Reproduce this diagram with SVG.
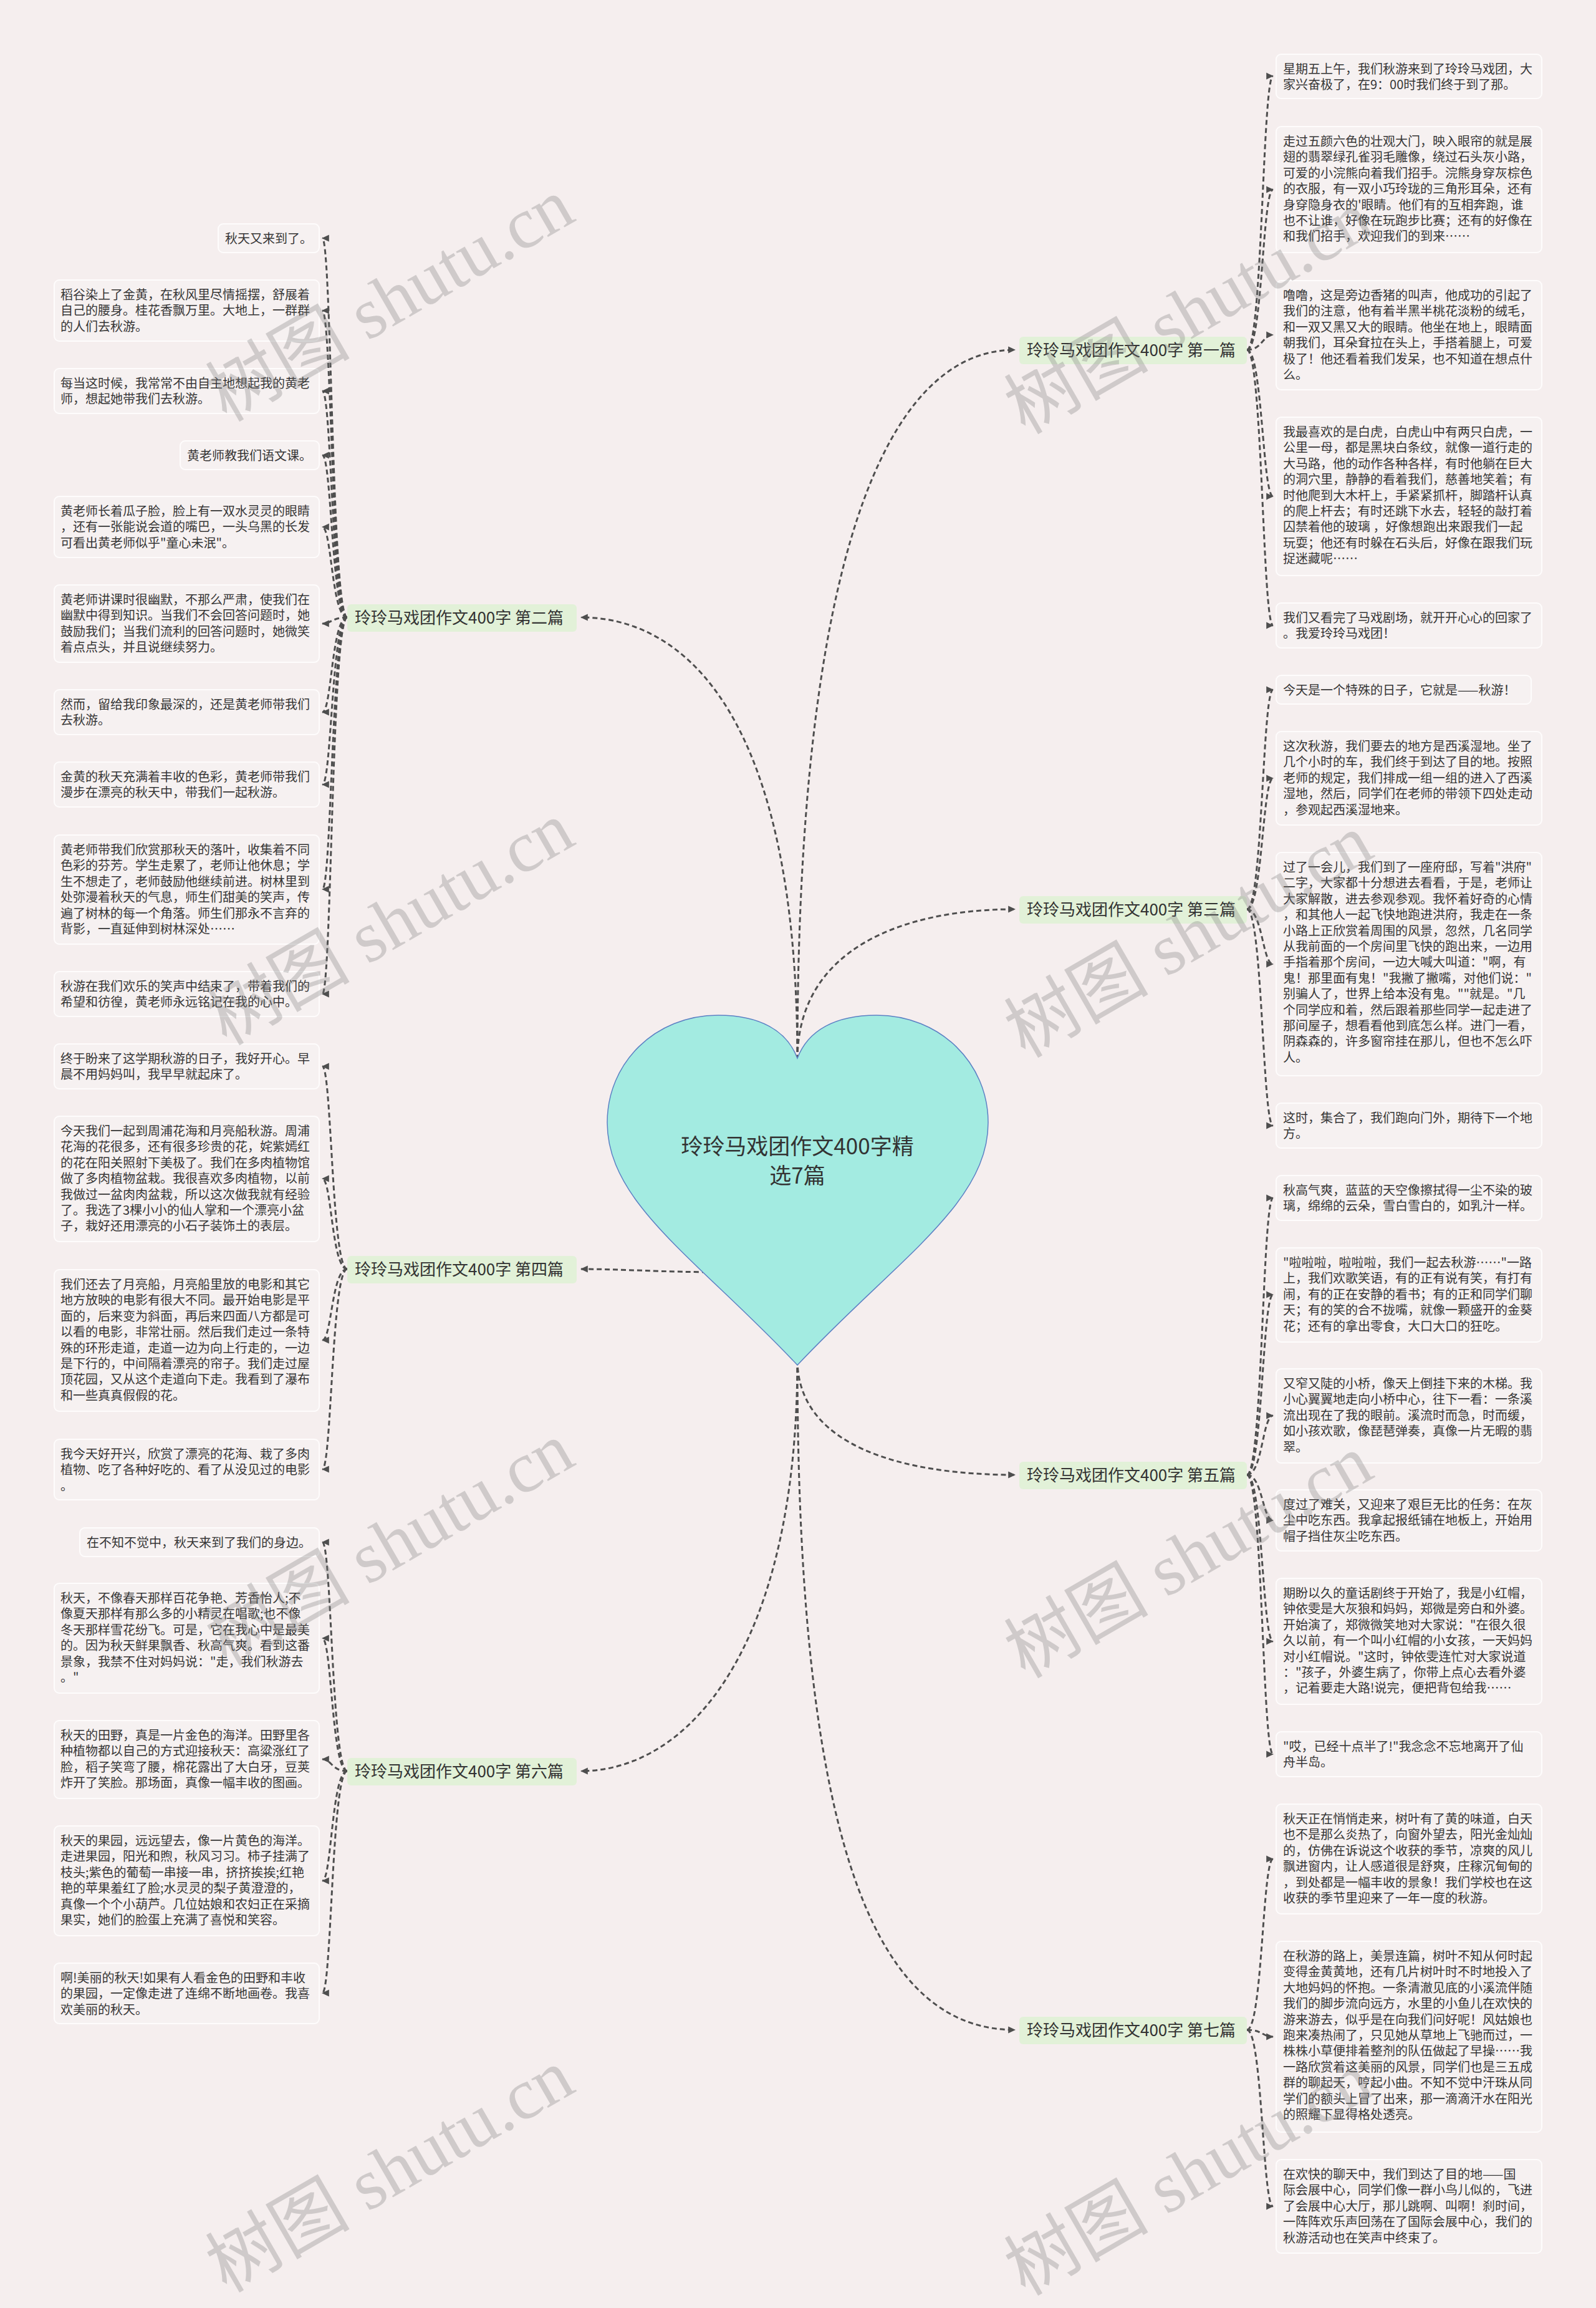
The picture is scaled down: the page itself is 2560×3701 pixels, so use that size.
<svg xmlns="http://www.w3.org/2000/svg" width="2560" height="3701" viewBox="0 0 2560 3701">
<style>
.bg{fill:#f5eeee}
.leaf rect{fill:#f6f1f1;stroke:#fefcfc;stroke-width:2}
.leaf text{font-family:"Noto Sans CJK SC","Noto Sans",sans-serif;font-size:20px;fill:#363636}
.lbl rect{fill:#e2f1d8}
.lbl text{font-family:"Noto Sans CJK SC","Noto Sans",sans-serif;font-size:26px;fill:#333}
.conn path{fill:none;stroke:#4e4e4e;stroke-width:3;stroke-dasharray:8 5;marker-end:url(#arr)}
.wm{font-family:"Liberation Serif","Noto Sans CJK SC",serif;font-size:116px;fill:#7a7a7a;opacity:.3}
</style>
<defs>
<marker id="arr" viewBox="0 0 10 10" refX="9" refY="5" markerWidth="12" markerHeight="12" markerUnits="userSpaceOnUse" orient="auto">
<path d="M0,0.5 L10,5 L0,9.5 z" fill="#4e4e4e"/>
</marker>
</defs>
<rect class="bg" x="0" y="0" width="2560" height="3701"/>

<g id="connectors" class="conn">
<path d="M1279 1700 C1279 900 1420 561 1628 561"/>
<path d="M1279 1700 C1279 1150 1100 990 932 990"/>
<path d="M1279 1700 C1279 1520 1450 1458 1628 1458"/>
<path d="M1160 2040 C1060 2040 1000 2035 932 2035"/>
<path d="M1279 2180 C1279 2320 1450 2365 1628 2365"/>
<path d="M1279 2180 C1279 2650 1100 2840 932 2840"/>
<path d="M1279 2180 C1279 3000 1420 3255 1628 3255"/>

<path d="M2000 561 C2025 561 2025 122 2042 122"/>
<path d="M2000 561 C2025 561 2025 304 2042 304"/>
<path d="M2000 561 C2025 561 2025 537 2042 537"/>
<path d="M2000 561 C2025 561 2025 796 2042 796"/>
<path d="M2000 561 C2025 561 2025 1003 2042 1003"/>

<path d="M557 990 C532 990 532 382 517 382"/>
<path d="M557 990 C532 990 532 498 517 498"/>
<path d="M557 990 C532 990 532 627 517 627"/>
<path d="M557 990 C532 990 532 730 517 730"/>
<path d="M557 990 C532 990 532 845 517 845"/>
<path d="M557 990 C532 990 532 1000 517 1000"/>
<path d="M557 990 C532 990 532 1142 517 1142"/>
<path d="M557 990 C532 990 532 1258 517 1258"/>
<path d="M557 990 C532 990 532 1426 517 1426"/>
<path d="M557 990 C532 990 532 1594 517 1594"/>

<path d="M2000 1458 C2025 1458 2025 1106 2042 1106"/>
<path d="M2000 1458 C2025 1458 2025 1248 2042 1248"/>
<path d="M2000 1458 C2025 1458 2025 1546 2042 1546"/>
<path d="M2000 1458 C2025 1458 2025 1805 2042 1805"/>

<path d="M557 2035 C532 2035 532 1710 517 1710"/>
<path d="M557 2035 C532 2035 532 1890 517 1890"/>
<path d="M557 2035 C532 2035 532 2149 517 2149"/>
<path d="M557 2035 C532 2035 532 2356 517 2356"/>

<path d="M2000 2365 C2025 2365 2025 1921 2042 1921"/>
<path d="M2000 2365 C2025 2365 2025 2076 2042 2076"/>
<path d="M2000 2365 C2025 2365 2025 2270 2042 2270"/>
<path d="M2000 2365 C2025 2365 2025 2438 2042 2438"/>
<path d="M2000 2365 C2025 2365 2025 2632 2042 2632"/>
<path d="M2000 2365 C2025 2365 2025 2813 2042 2813"/>

<path d="M557 2840 C532 2840 532 2473 517 2473"/>
<path d="M557 2840 C532 2840 532 2627 517 2627"/>
<path d="M557 2840 C532 2840 532 2821 517 2821"/>
<path d="M557 2840 C532 2840 532 3016 517 3016"/>
<path d="M557 2840 C532 2840 532 3196 517 3196"/>

<path d="M2000 3255 C2025 3255 2025 2981 2042 2981"/>
<path d="M2000 3255 C2025 3255 2025 3266 2042 3266"/>
<path d="M2000 3255 C2025 3255 2025 3538 2042 3538"/>
</g>

<g id="center">
<path d="M1279 1697 C1262 1652 1218 1628 1152 1628 C1050 1628 974 1705 974 1800 C974 1930 1120 2020 1279 2189 C1438 2020 1585 1930 1585 1800 C1585 1705 1508 1628 1406 1628 C1340 1628 1296 1652 1279 1697 Z" fill="#a3ebe1" stroke="#5d80c4" stroke-width="1.5"/>
<text x="1279" y="1851" text-anchor="middle" font-family="Noto Sans CJK SC, sans-serif" font-size="35" fill="#333">玲玲马戏团作文400字精</text>
<text x="1279" y="1898" text-anchor="middle" font-family="Noto Sans CJK SC, sans-serif" font-size="35" fill="#333">选7篇</text>
</g>

<g id="b1" class="lbl"><rect x="1635" y="540" width="365" height="44" rx="6"/><text x="1647" y="571">玲玲马戏团作文400字 第一篇</text></g>
<g id="b2" class="lbl"><rect x="557" y="969" width="368" height="44" rx="6"/><text x="569" y="1000">玲玲马戏团作文400字 第二篇</text></g>
<g id="b3" class="lbl"><rect x="1635" y="1437" width="365" height="44" rx="6"/><text x="1647" y="1468">玲玲马戏团作文400字 第三篇</text></g>
<g id="b4" class="lbl"><rect x="557" y="2014" width="368" height="44" rx="6"/><text x="569" y="2045">玲玲马戏团作文400字 第四篇</text></g>
<g id="b5" class="lbl"><rect x="1635" y="2344" width="365" height="44" rx="6"/><text x="1647" y="2375">玲玲马戏团作文400字 第五篇</text></g>
<g id="b6" class="lbl"><rect x="557" y="2819" width="368" height="44" rx="6"/><text x="569" y="2850">玲玲马戏团作文400字 第六篇</text></g>
<g id="b7" class="lbl"><rect x="1635" y="3234" width="365" height="44" rx="6"/><text x="1647" y="3265">玲玲马戏团作文400字 第七篇</text></g>

<g id="l2-1" class="leaf"><rect x="350" y="359" width="162" height="46" rx="8"/><text x="361" y="390">秋天又来到了。</text></g>
<g id="l2-2" class="leaf"><rect x="87" y="449" width="425" height="98" rx="8"/><text x="97" y="480"><tspan x="97">稻谷染上了金黄，在秋风里尽情摇摆，舒展着</tspan><tspan x="97" dy="25.4">自己的腰身。桂花香飘万里。大地上，一群群</tspan><tspan x="97" dy="25.4">的人们去秋游。</tspan></text></g>
<g id="l2-3" class="leaf"><rect x="87" y="591" width="425" height="72" rx="8"/><text x="97" y="622"><tspan x="97">每当这时候，我常常不由自主地想起我的黄老</tspan><tspan x="97" dy="25.4">师，想起她带我们去秋游。</tspan></text></g>
<g id="l2-4" class="leaf"><rect x="289" y="707" width="223" height="46" rx="8"/><text x="300" y="738">黄老师教我们语文课。</text></g>
<g id="l2-5" class="leaf"><rect x="87" y="796" width="425" height="98" rx="8"/><text x="97" y="827"><tspan x="97">黄老师长着瓜子脸，脸上有一双水灵灵的眼睛</tspan><tspan x="97" dy="25.4">，还有一张能说会道的嘴巴，一头乌黑的长发</tspan><tspan x="97" dy="25.4">可看出黄老师似乎"童心未泯"。</tspan></text></g>
<g id="l2-6" class="leaf"><rect x="87" y="938" width="425" height="124" rx="8"/><text x="97" y="969"><tspan x="97">黄老师讲课时很幽默，不那么严肃，使我们在</tspan><tspan x="97" dy="25.4">幽默中得到知识。当我们不会回答问题时，她</tspan><tspan x="97" dy="25.4">鼓励我们；当我们流利的回答问题时，她微笑</tspan><tspan x="97" dy="25.4">着点点头，并且说继续努力。</tspan></text></g>
<g id="l2-7" class="leaf"><rect x="87" y="1106" width="425" height="72" rx="8"/><text x="97" y="1137"><tspan x="97">然而，留给我印象最深的，还是黄老师带我们</tspan><tspan x="97" dy="25.4">去秋游。</tspan></text></g>
<g id="l2-8" class="leaf"><rect x="87" y="1222" width="425" height="72" rx="8"/><text x="97" y="1253"><tspan x="97">金黄的秋天充满着丰收的色彩，黄老师带我们</tspan><tspan x="97" dy="25.4">漫步在漂亮的秋天中，带我们一起秋游。</tspan></text></g>
<g id="l2-9" class="leaf"><rect x="87" y="1339" width="425" height="175" rx="8"/><text x="97" y="1370"><tspan x="97">黄老师带我们欣赏那秋天的落叶，收集着不同</tspan><tspan x="97" dy="25.4">色彩的芬芳。学生走累了，老师让他休息；学</tspan><tspan x="97" dy="25.4">生不想走了，老师鼓励他继续前进。树林里到</tspan><tspan x="97" dy="25.4">处弥漫着秋天的气息，师生们甜美的笑声，传</tspan><tspan x="97" dy="25.4">遍了树林的每一个角落。师生们那永不言弃的</tspan><tspan x="97" dy="25.4">背影，一直延伸到树林深处……</tspan></text></g>
<g id="l2-10" class="leaf"><rect x="87" y="1558" width="425" height="72" rx="8"/><text x="97" y="1589"><tspan x="97">秋游在我们欢乐的笑声中结束了，带着我们的</tspan><tspan x="97" dy="25.4">希望和彷徨，黄老师永远铭记在我的心中。</tspan></text></g>

<g id="l4-1" class="leaf"><rect x="87" y="1674" width="425" height="72" rx="8"/><text x="97" y="1705"><tspan x="97">终于盼来了这学期秋游的日子，我好开心。早</tspan><tspan x="97" dy="25.4">晨不用妈妈叫，我早早就起床了。</tspan></text></g>
<g id="l4-2" class="leaf"><rect x="87" y="1790" width="425" height="201" rx="8"/><text x="97" y="1821"><tspan x="97">今天我们一起到周浦花海和月亮船秋游。周浦</tspan><tspan x="97" dy="25.4">花海的花很多，还有很多珍贵的花，姹紫嫣红</tspan><tspan x="97" dy="25.4">的花在阳关照射下美极了。我们在多肉植物馆</tspan><tspan x="97" dy="25.4">做了多肉植物盆栽。我很喜欢多肉植物，以前</tspan><tspan x="97" dy="25.4">我做过一盆肉肉盆栽，所以这次做我就有经验</tspan><tspan x="97" dy="25.4">了。我选了3棵小小的仙人掌和一个漂亮小盆</tspan><tspan x="97" dy="25.4">子，栽好还用漂亮的小石子装饰土的表层。</tspan></text></g>
<g id="l4-3" class="leaf"><rect x="87" y="2036" width="425" height="227" rx="8"/><text x="97" y="2067"><tspan x="97">我们还去了月亮船，月亮船里放的电影和其它</tspan><tspan x="97" dy="25.4">地方放映的电影有很大不同。最开始电影是平</tspan><tspan x="97" dy="25.4">面的，后来变为斜面，再后来四面八方都是可</tspan><tspan x="97" dy="25.4">以看的电影，非常壮丽。然后我们走过一条特</tspan><tspan x="97" dy="25.4">殊的环形走道，走道一边为向上行走的，一边</tspan><tspan x="97" dy="25.4">是下行的，中间隔着漂亮的帘子。我们走过屋</tspan><tspan x="97" dy="25.4">顶花园，又从这个走道向下走。我看到了瀑布</tspan><tspan x="97" dy="25.4">和一些真真假假的花。</tspan></text></g>
<g id="l4-4" class="leaf"><rect x="87" y="2308" width="425" height="97" rx="8"/><text x="97" y="2339"><tspan x="97">我今天好开兴，欣赏了漂亮的花海、栽了多肉</tspan><tspan x="97" dy="25.4">植物、吃了各种好吃的、看了从没见过的电影</tspan><tspan x="97" dy="25.4">。</tspan></text></g>

<g id="l6-1" class="leaf"><rect x="128" y="2450" width="384" height="46" rx="8"/><text x="139" y="2481">在不知不觉中，秋天来到了我们的身边。</text></g>
<g id="l6-2" class="leaf"><rect x="87" y="2539" width="425" height="176" rx="8"/><text x="97" y="2570"><tspan x="97">秋天，不像春天那样百花争艳、芳香怡人;不</tspan><tspan x="97" dy="25.4">像夏天那样有那么多的小精灵在唱歌;也不像</tspan><tspan x="97" dy="25.4">冬天那样雪花纷飞。可是，它在我心中是最美</tspan><tspan x="97" dy="25.4">的。因为秋天鲜果飘香、秋高气爽。看到这番</tspan><tspan x="97" dy="25.4">景象，我禁不住对妈妈说："走，我们秋游去</tspan><tspan x="97" dy="25.4">。"</tspan></text></g>
<g id="l6-3" class="leaf"><rect x="87" y="2759" width="425" height="125" rx="8"/><text x="97" y="2790"><tspan x="97">秋天的田野，真是一片金色的海洋。田野里各</tspan><tspan x="97" dy="25.4">种植物都以自己的方式迎接秋天：高粱涨红了</tspan><tspan x="97" dy="25.4">脸，稻子笑弯了腰，棉花露出了大白牙，豆荚</tspan><tspan x="97" dy="25.4">炸开了笑脸。那场面，真像一幅丰收的图画。</tspan></text></g>
<g id="l6-4" class="leaf"><rect x="87" y="2928" width="425" height="176" rx="8"/><text x="97" y="2959"><tspan x="97">秋天的果园，远远望去，像一片黄色的海洋。</tspan><tspan x="97" dy="25.4">走进果园，阳光和煦，秋风习习。柿子挂满了</tspan><tspan x="97" dy="25.4">枝头;紫色的葡萄一串接一串，挤挤挨挨;红艳</tspan><tspan x="97" dy="25.4">艳的苹果羞红了脸;水灵灵的梨子黄澄澄的，</tspan><tspan x="97" dy="25.4">真像一个个小葫芦。几位姑娘和农妇正在采摘</tspan><tspan x="97" dy="25.4">果实，她们的脸蛋上充满了喜悦和笑容。</tspan></text></g>
<g id="l6-5" class="leaf"><rect x="87" y="3148" width="425" height="97" rx="8"/><text x="97" y="3179"><tspan x="97">啊!美丽的秋天!如果有人看金色的田野和丰收</tspan><tspan x="97" dy="25.4">的果园，一定像走进了连绵不断地画卷。我喜</tspan><tspan x="97" dy="25.4">欢美丽的秋天。</tspan></text></g>

<g id="r1-1" class="leaf"><rect x="2047" y="87" width="426" height="71" rx="8"/><text x="2058" y="118"><tspan x="2058">星期五上午，我们秋游来到了玲玲马戏团，大</tspan><tspan x="2058" dy="25.4">家兴奋极了，在9：00时我们终于到了那。</tspan></text></g>
<g id="r1-2" class="leaf"><rect x="2047" y="203" width="426" height="202" rx="8"/><text x="2058" y="234"><tspan x="2058">走过五颜六色的壮观大门，映入眼帘的就是展</tspan><tspan x="2058" dy="25.4">翅的翡翠绿孔雀羽毛雕像，绕过石头灰小路，</tspan><tspan x="2058" dy="25.4">可爱的小浣熊向着我们招手。浣熊身穿灰棕色</tspan><tspan x="2058" dy="25.4">的衣服，有一双小巧玲珑的三角形耳朵，还有</tspan><tspan x="2058" dy="25.4">身穿隐身衣的'眼睛。他们有的互相奔跑，谁</tspan><tspan x="2058" dy="25.4">也不让谁，好像在玩跑步比赛；还有的好像在</tspan><tspan x="2058" dy="25.4">和我们招手，欢迎我们的到来……</tspan></text></g>
<g id="r1-3" class="leaf"><rect x="2047" y="450" width="426" height="175" rx="8"/><text x="2058" y="481"><tspan x="2058">噜噜，这是旁边香猪的叫声，他成功的引起了</tspan><tspan x="2058" dy="25.4">我们的注意，他有着半黑半桃花淡粉的绒毛，</tspan><tspan x="2058" dy="25.4">和一双又黑又大的眼睛。他坐在地上，眼睛面</tspan><tspan x="2058" dy="25.4">朝我们，耳朵耷拉在头上，手搭着腿上，可爱</tspan><tspan x="2058" dy="25.4">极了！他还看着我们发呆，也不知道在想点什</tspan><tspan x="2058" dy="25.4">么。</tspan></text></g>
<g id="r1-4" class="leaf"><rect x="2047" y="669" width="426" height="254" rx="8"/><text x="2058" y="700"><tspan x="2058">我最喜欢的是白虎，白虎山中有两只白虎，一</tspan><tspan x="2058" dy="25.4">公里一母，都是黑块白条纹，就像一道行走的</tspan><tspan x="2058" dy="25.4">大马路，他的动作各种各样，有时他躺在巨大</tspan><tspan x="2058" dy="25.4">的洞穴里，静静的看着我们，慈善地笑着；有</tspan><tspan x="2058" dy="25.4">时他爬到大木杆上，手紧紧抓杆，脚踏杆认真</tspan><tspan x="2058" dy="25.4">的爬上杆去；有时还跳下水去，轻轻的敲打着</tspan><tspan x="2058" dy="25.4">囚禁着他的玻璃 ，好像想跑出来跟我们一起</tspan><tspan x="2058" dy="25.4">玩耍；他还有时躲在石头后，好像在跟我们玩</tspan><tspan x="2058" dy="25.4">捉迷藏呢……</tspan></text></g>
<g id="r1-5" class="leaf"><rect x="2047" y="967" width="426" height="72" rx="8"/><text x="2058" y="998"><tspan x="2058">我们又看完了马戏剧场，就开开心心的回家了</tspan><tspan x="2058" dy="25.4">。我爱玲玲马戏团！</tspan></text></g>

<g id="r3-1" class="leaf"><rect x="2047" y="1083" width="409" height="46" rx="8"/><text x="2058" y="1114">今天是一个特殊的日子，它就是——秋游！</text></g>
<g id="r3-2" class="leaf"><rect x="2047" y="1173" width="426" height="150" rx="8"/><text x="2058" y="1204"><tspan x="2058">这次秋游，我们要去的地方是西溪湿地。坐了</tspan><tspan x="2058" dy="25.4">几个小时的车，我们终于到达了目的地。按照</tspan><tspan x="2058" dy="25.4">老师的规定，我们排成一组一组的进入了西溪</tspan><tspan x="2058" dy="25.4">湿地，然后，同学们在老师的带领下四处走动</tspan><tspan x="2058" dy="25.4">，参观起西溪湿地来。</tspan></text></g>
<g id="r3-3" class="leaf"><rect x="2047" y="1367" width="426" height="358" rx="8"/><text x="2058" y="1398"><tspan x="2058">过了一会儿，我们到了一座府邸，写着"洪府"</tspan><tspan x="2058" dy="25.4">二字，大家都十分想进去看看，于是，老师让</tspan><tspan x="2058" dy="25.4">大家解散，进去参观参观。我怀着好奇的心情</tspan><tspan x="2058" dy="25.4">，和其他人一起飞快地跑进洪府，我走在一条</tspan><tspan x="2058" dy="25.4">小路上正欣赏着周围的风景，忽然，几名同学</tspan><tspan x="2058" dy="25.4">从我前面的一个房间里飞快的跑出来，一边用</tspan><tspan x="2058" dy="25.4">手指着那个房间，一边大喊大叫道："啊，有</tspan><tspan x="2058" dy="25.4">鬼！那里面有鬼！"我撇了撇嘴，对他们说："</tspan><tspan x="2058" dy="25.4">别骗人了，世界上给本没有鬼。""就是。"几</tspan><tspan x="2058" dy="25.4">个同学应和着，然后跟着那些同学一起走进了</tspan><tspan x="2058" dy="25.4">那间屋子，想看看他到底怎么样。进门一看，</tspan><tspan x="2058" dy="25.4">阴森森的，许多窗帘挂在那儿，但也不怎么吓</tspan><tspan x="2058" dy="25.4">人。</tspan></text></g>
<g id="r3-4" class="leaf"><rect x="2047" y="1769" width="426" height="72" rx="8"/><text x="2058" y="1800"><tspan x="2058">这时，集合了，我们跑向门外，期待下一个地</tspan><tspan x="2058" dy="25.4">方。</tspan></text></g>

<g id="r5-1" class="leaf"><rect x="2047" y="1885" width="426" height="72" rx="8"/><text x="2058" y="1916"><tspan x="2058">秋高气爽，蓝蓝的天空像擦拭得一尘不染的玻</tspan><tspan x="2058" dy="25.4">璃，绵绵的云朵，雪白雪白的，如乳汁一样。</tspan></text></g>
<g id="r5-2" class="leaf"><rect x="2047" y="2001" width="426" height="151" rx="8"/><text x="2058" y="2032"><tspan x="2058">"啦啦啦，啦啦啦，我们一起去秋游……"一路</tspan><tspan x="2058" dy="25.4">上，我们欢歌笑语，有的正有说有笑，有打有</tspan><tspan x="2058" dy="25.4">闹，有的正在安静的看书；有的正和同学们聊</tspan><tspan x="2058" dy="25.4">天；有的笑的合不拢嘴，就像一颗盛开的金葵</tspan><tspan x="2058" dy="25.4">花；还有的拿出零食，大口大口的狂吃。</tspan></text></g>
<g id="r5-3" class="leaf"><rect x="2047" y="2195" width="426" height="151" rx="8"/><text x="2058" y="2226"><tspan x="2058">又窄又陡的小桥，像天上倒挂下来的木梯。我</tspan><tspan x="2058" dy="25.4">小心翼翼地走向小桥中心，往下一看：一条溪</tspan><tspan x="2058" dy="25.4">流出现在了我的眼前。溪流时而急，时而缓，</tspan><tspan x="2058" dy="25.4">如小孩欢歌，像琵琶弹奏，真像一片无暇的翡</tspan><tspan x="2058" dy="25.4">翠。</tspan></text></g>
<g id="r5-4" class="leaf"><rect x="2047" y="2389" width="426" height="98" rx="8"/><text x="2058" y="2420"><tspan x="2058">度过了难关，又迎来了艰巨无比的任务：在灰</tspan><tspan x="2058" dy="25.4">尘中吃东西。我拿起报纸铺在地板上，开始用</tspan><tspan x="2058" dy="25.4">帽子挡住灰尘吃东西。</tspan></text></g>
<g id="r5-5" class="leaf"><rect x="2047" y="2531" width="426" height="202" rx="8"/><text x="2058" y="2562"><tspan x="2058">期盼以久的童话剧终于开始了，我是小红帽，</tspan><tspan x="2058" dy="25.4">钟依雯是大灰狼和妈妈，郑微是旁白和外婆。</tspan><tspan x="2058" dy="25.4">开始演了，郑微微笑地对大家说："在很久很</tspan><tspan x="2058" dy="25.4">久以前，有一个叫小红帽的小女孩，一天妈妈</tspan><tspan x="2058" dy="25.4">对小红帽说。"这时，钟依雯连忙对大家说道</tspan><tspan x="2058" dy="25.4">："孩子，外婆生病了，你带上点心去看外婆</tspan><tspan x="2058" dy="25.4">，记着要走大路!说完，便把背包给我……</tspan></text></g>
<g id="r5-6" class="leaf"><rect x="2047" y="2777" width="426" height="72" rx="8"/><text x="2058" y="2808"><tspan x="2058">"哎，已经十点半了!"我念念不忘地离开了仙</tspan><tspan x="2058" dy="25.4">舟半岛。</tspan></text></g>

<g id="r7-1" class="leaf"><rect x="2047" y="2893" width="426" height="176" rx="8"/><text x="2058" y="2924"><tspan x="2058">秋天正在悄悄走来，树叶有了黄的味道，白天</tspan><tspan x="2058" dy="25.4">也不是那么炎热了，向窗外望去，阳光金灿灿</tspan><tspan x="2058" dy="25.4">的，仿佛在诉说这个收获的季节，凉爽的风儿</tspan><tspan x="2058" dy="25.4">飘进窗内，让人感道很是舒爽，庄稼沉甸甸的</tspan><tspan x="2058" dy="25.4">，到处都是一幅丰收的景象！我们学校也在这</tspan><tspan x="2058" dy="25.4">收获的季节里迎来了一年一度的秋游。</tspan></text></g>
<g id="r7-2" class="leaf"><rect x="2047" y="3113" width="426" height="306" rx="8"/><text x="2058" y="3144"><tspan x="2058">在秋游的路上，美景连篇，树叶不知从何时起</tspan><tspan x="2058" dy="25.4">变得金黄黄地，还有几片树叶时不时地投入了</tspan><tspan x="2058" dy="25.4">大地妈妈的怀抱。一条清澈见底的小溪流伴随</tspan><tspan x="2058" dy="25.4">我们的脚步流向远方，水里的小鱼儿在欢快的</tspan><tspan x="2058" dy="25.4">游来游去，似乎是在向我们问好呢！风姑娘也</tspan><tspan x="2058" dy="25.4">跑来凑热闹了，只见她从草地上飞驰而过，一</tspan><tspan x="2058" dy="25.4">株株小草便排着整剂的队伍做起了早操……我</tspan><tspan x="2058" dy="25.4">一路欣赏着这美丽的风景，同学们也是三五成</tspan><tspan x="2058" dy="25.4">群的聊起天，哼起小曲。不知不觉中汗珠从同</tspan><tspan x="2058" dy="25.4">学们的额头上冒了出来，那一滴滴汗水在阳光</tspan><tspan x="2058" dy="25.4">的照耀下显得格处透亮。</tspan></text></g>
<g id="r7-3" class="leaf"><rect x="2047" y="3463" width="426" height="150" rx="8"/><text x="2058" y="3494"><tspan x="2058">在欢快的聊天中，我们到达了目的地——国</tspan><tspan x="2058" dy="25.4">际会展中心，同学们像一群小鸟儿似的，飞进</tspan><tspan x="2058" dy="25.4">了会展中心大厅，那儿跳啊、叫啊！刹时间，</tspan><tspan x="2058" dy="25.4">一阵阵欢乐声回荡在了国际会展中心，我们的</tspan><tspan x="2058" dy="25.4">秋游活动也在笑声中终束了。</tspan></text></g>

<g id="watermarks">
<text class="wm" text-anchor="middle" transform="translate(645 515) rotate(-30)">树图 shutu.cn</text>
<text class="wm" text-anchor="middle" transform="translate(1926 535) rotate(-30)">树图 shutu.cn</text>
<text class="wm" text-anchor="middle" transform="translate(645 1515) rotate(-30)">树图 shutu.cn</text>
<text class="wm" text-anchor="middle" transform="translate(1926 1535) rotate(-30)">树图 shutu.cn</text>
<text class="wm" text-anchor="middle" transform="translate(645 2510) rotate(-30)">树图 shutu.cn</text>
<text class="wm" text-anchor="middle" transform="translate(1926 2530) rotate(-30)">树图 shutu.cn</text>
<text class="wm" text-anchor="middle" transform="translate(645 3515) rotate(-30)">树图 shutu.cn</text>
<text class="wm" text-anchor="middle" transform="translate(1926 3520) rotate(-30)">树图 shutu.cn</text>
</g>
</svg>
